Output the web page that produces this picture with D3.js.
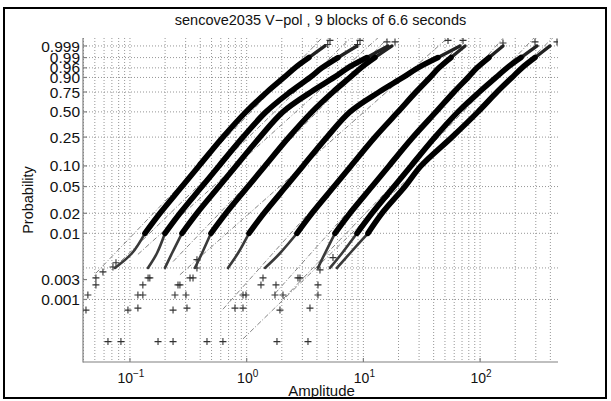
<!DOCTYPE html>
<html><head><meta charset="utf-8">
<script src="https://cdn.jsdelivr.net/npm/d3@7/dist/d3.min.js"></script>
<style>
body{margin:0;background:#fff}
svg{display:block}
text{font-family:"Liberation Sans",Arial,Helvetica,sans-serif;fill:#111}
</style>
</head><body>
<svg id="c" width="611" height="401"></svg>
<script>
// ---------------- data ----------------
const title = "sencove2035 V\u2212pol , 9 blocks of 6.6 seconds";
const xLabel = "Amplitude";
const yLabel = "Probability";
const xDomain = [0.0396, 465];
const pDomain = [0.000113, 0.99989];
const xTickValues = [0.1, 1, 10, 100];
const xTickExponents = ["\u22121", "0", "1", "2"];
const xGridMultipliers = [1,2,3,4,5,6,7,8,9];
const xGridDecades = [0.01, 0.1, 1, 10, 100];
const xGridMax = 400;
const yTickProbs = [0.001, 0.002, 0.01, 0.02, 0.05, 0.10, 0.25, 0.50, 0.75, 0.90, 0.96, 0.99, 0.999];
const yTickLabels = ["0.001","0.003","0.01","0.02","0.05","0.10","0.25","0.50","0.75","0.90","0.96","0.99","0.999"];
const yGridProbs = [0.001, 0.003, 0.01, 0.02, 0.05, 0.10, 0.25, 0.50, 0.75, 0.90, 0.96, 0.99, 0.999];

// probability levels of the dense part of each block
const probLevels = [0.01, 0.02, 0.05, 0.10, 0.25, 0.50, 0.75, 0.90, 0.96, 0.99, 0.999];
const block1 = [0.1344, 0.1807, 0.2790, 0.3902, 0.6263, 0.9863, 1.493, 2.087, 2.594, 3.419, 4.688];
const block2 = [0.1995, 0.2681, 0.4140, 0.5789, 0.9297, 1.464, 2.350, 3.486, 4.418, 6.058, 8.815];
const block3 = [0.2790, 0.3750, 0.5789, 0.8097, 1.300, 2.047, 3.556, 5.601, 7.379, 10.74, 16.25];
const block4 = [0.4943, 0.6647, 1.026, 1.435, 2.304, 3.627, 5.490, 7.676, 9.537, 12.57, 17.58];
const block5 = [1.046, 1.406, 2.172, 3.037, 4.876, 7.676, 13.61, 21.84, 29.37, 43.59, 67.26];
const block6 = [2.698, 3.627, 5.601, 7.829, 12.57, 19.80, 28.23, 37.22, 44.44, 56.31, 74.26];
const block7 = [5.710, 7.676, 11.85, 16.57, 26.61, 41.90, 59.76, 78.76, 94.06, 119.2, 157.1];
const block8 = [8.815, 11.85, 18.30, 25.58, 41.06, 64.65, 98.51, 136.8, 170.0, 224.1, 307.3];
const block9 = [10.95, 14.43, 22.73, 31.16, 57.43, 95.94, 139.6, 187.7, 228.6, 295.4, 397.2];

// sparser lower part (p = 0.003, 0.005)
const lowLevels = [0.003, 0.005];
const low1 = [0.0744, 0.1040];
const low2 = [0.1426, 0.1703];
const low3 = [0.1995, 0.2291];
const low4 = [0.3605, 0.4140];
const low5 = [0.6913, 0.842];
const low6 = [1.435, 1.929];
const low7 = [4.083, 4.688];
const low8 = [5.173, 6.556];
const low9 = [5.94, 7.676];

// isolated lower-tail samples [amplitude, probability]
const tail1 = [[0.042,0.00069],[0.0436,0.00117],[0.0511,0.00166],[0.0511,0.00212],[0.0587,0.00261],[0.0648,0.00023],[0.0715,0.0031],[0.0759,0.0036]];
const tail2 = [[0.0837,0.00023],[0.0961,0.00069],[0.117,0.00117],[0.129,0.00166],[0.143,0.00212]];
const tail3 = [[0.174,0.00023],[0.117,0.00074],[0.129,0.00117],[0.148,0.00212]];
const tail4 = [[0.234,0.00023],[0.234,0.00069],[0.243,0.00117],[0.258,0.00166],[0.327,0.00212],[0.375,0.0030]];
const tail5 = [[0.457,0.00023],[0.308,0.00074],[0.302,0.00117],[0.268,0.00166],[0.347,0.00212],[0.375,0.0040]];
const tail6 = [[0.626,0.00023],[0.794,0.00074],[0.930,0.00117],[1.326,0.00166],[1.380,0.00212]];
const tail7 = [[1.818,0.00023],[1.929,0.00069],[1.748,0.00117],[1.783,0.00166],[2.752,0.00212]];
const tail8 = [[3.352,0.00023],[3.486,0.00074],[2.047,0.00117],[4.083,0.00166],[2.862,0.00212],[4.247,0.0028]];
const tail9 = [[0.930,0.00074],[0.986,0.00117],[4.083,0.00117],[5.490,0.0043]];

// isolated upper-tail samples [amplitude, probability]
const top1 = [[5.173,0.99977],[4.95,0.9993]];
const top2 = [[9.352,0.99977],[8.9,0.9993]];
const top3 = [[15.93,0.99965]];
const top4 = [[18.66,0.99965]];
const top5 = [[53.1,0.99977]];
const top6 = [[71.4,0.99977]];
const top7 = [[157.1,0.99953]];
const top8 = [[295.4,0.99965]];
const top9 = [[456.0,0.99965]];

// reference (fit) lines drawn through each block's p=0.10 and p=0.90 points, over this amplitude extent
const fitProbs = [0.10, 0.90];
const fitExtent = [[0.051,5.2],[0.0837,9.4],[0.117,16],[0.234,18.7],[0.268,53],[0.626,71],[1.748,157],[2.047,295],[0.93,456]];

const blocks = [block1,block2,block3,block4,block5,block6,block7,block8,block9];
const lows = [low1,low2,low3,low4,low5,low6,low7,low8,low9];
const tails = [tail1,tail2,tail3,tail4,tail5,tail6,tail7,tail8,tail9];
const tops = [top1,top2,top3,top4,top5,top6,top7,top8,top9];

// ---------------- drawing ----------------
const svg = d3.select("#c");
const L = 83, R = 558, T = 38, B = 362;
const wb = p => Math.log(-Math.log(1 - p));
const x = d3.scaleLog().domain(xDomain).range([L, R]);
const yw = d3.scaleLinear().domain([wb(pDomain[0]), wb(pDomain[1])]).range([B, T]);
const y = p => yw(wb(p));

// frame
svg.append("rect").attr("x",4).attr("y",8).attr("width",602).attr("height",390)
  .attr("fill","none").attr("stroke","#000").attr("stroke-width",2);

svg.append("defs").append("clipPath").attr("id","clip")
  .append("rect").attr("x",L).attr("y",T).attr("width",R-L).attr("height",B-T);

// grid
const gridX = [];
xGridDecades.forEach(d => xGridMultipliers.forEach(m => {
  const v = +(d*m).toPrecision(3);
  if (v >= xDomain[0] && v <= xGridMax) gridX.push(v);
}));
const grid = svg.append("g").attr("stroke","#8a8a8a").attr("stroke-width",0.9)
  .attr("stroke-dasharray","1,2").attr("fill","none");
grid.selectAll(".gx").data(gridX).join("line")
  .attr("x1",d=>x(d)).attr("x2",d=>x(d)).attr("y1",T).attr("y2",B);
grid.selectAll(".gy").data(yGridProbs).join("line")
  .attr("x1",L).attr("x2",R).attr("y1",d=>y(d)).attr("y2",d=>y(d));

// axes
const ax = svg.append("g").attr("stroke","#808080").attr("stroke-width",1.2);
ax.append("line").attr("x1",L).attr("x2",L).attr("y1",T).attr("y2",B+0.5);
ax.append("line").attr("x1",L).attr("x2",R).attr("y1",B).attr("y2",B);
ax.selectAll(".ty").data(yTickProbs).join("line")
  .attr("x1",L).attr("x2",L+4).attr("y1",d=>y(d)).attr("y2",d=>y(d));
ax.selectAll(".tx").data(xTickValues).join("line")
  .attr("x1",d=>x(d)).attr("x2",d=>x(d)).attr("y1",B).attr("y2",B-4);

// tick labels
svg.append("g").selectAll("text").data(yTickProbs).join("text")
  .attr("x",80).attr("y",d=>y(d)).attr("dy","0.36em").attr("text-anchor","end")
  .attr("font-size",15.5).text((d,i)=>yTickLabels[i]);
const xt = svg.append("g").selectAll("text").data(xTickValues).join("text")
  .attr("x",d=>x(d)+1).attr("y",383).attr("text-anchor","middle").attr("font-size",14);
xt.append("tspan").text("10");
xt.append("tspan").attr("dy",-6).attr("font-size",10).text((d,i)=>xTickExponents[i]);

// labels
svg.append("text").attr("x",(L+R)/2).attr("y",25).attr("text-anchor","middle")
  .attr("font-size",14.5).text(title);
svg.append("text").attr("x",(L+R)/2+1).attr("y",396).attr("text-anchor","middle")
  .attr("font-size",15).text(xLabel);
svg.append("text").attr("transform",`translate(33,${(T+B)/2}) rotate(-90)`)
  .attr("text-anchor","middle").attr("font-size",14.5).text(yLabel);

const plot = svg.append("g").attr("clip-path","url(#clip)");

// fit lines (through each block's p=0.10 and p=0.90 points)
blocks.forEach((b,i) => {
  const i1 = probLevels.indexOf(fitProbs[0]), i2 = probLevels.indexOf(fitProbs[1]);
  const x1 = Math.log10(b[i1]), x2 = Math.log10(b[i2]);
  const w1 = wb(fitProbs[0]), w2 = wb(fitProbs[1]);
  const k = (w2-w1)/(x2-x1);
  const ends = fitExtent[i].map(a => [x(a), yw(w1 + k*(Math.log10(a)-x1))]);
  plot.append("line").attr("x1",ends[0][0]).attr("y1",ends[0][1])
    .attr("x2",ends[1][0]).attr("y2",ends[1][1])
    .attr("stroke","#777").attr("stroke-width",0.9).attr("stroke-dasharray","5,2,1,2");
});

const plus = (px,py,s) => `M${px-s},${py}h${2*s}M${px},${py-s}v${2*s}`;
const line = d3.line().curve(d3.curveCatmullRom.alpha(0.5));

// tails
tails.concat(tops).forEach(t => {
  plot.append("path").attr("d", t.map(d=>plus(x(d[0]),y(d[1]),3.5)).join(""))
    .attr("stroke","#333").attr("stroke-width",1.1).attr("fill","none");
});

// sparse lower segments
lows.forEach((lw,i) => {
  const pts = lw.map((a,j)=>[x(a), y(lowLevels[j])]);
  pts.push([x(blocks[i][0]), y(probLevels[0])]);
  plot.append("path").attr("d",line(pts)).attr("fill","none")
    .attr("stroke","#3a3a3a").attr("stroke-width",2.6).attr("stroke-linecap","round");
});

// sparser upper ends (p 0.99 -> 0.999)
blocks.forEach(b => {
  const n = b.length;
  const pts = [[x(b[n-3]), y(probLevels[n-3])],[x(b[n-2]), y(probLevels[n-2])],[x(b[n-1]), y(probLevels[n-1])]];
  plot.append("path").attr("d",line(pts)).attr("fill","none")
    .attr("stroke","#222").attr("stroke-width",3.4).attr("stroke-linecap","round");
});

// dense bodies (p 0.01 -> 0.99)
blocks.forEach(b => {
  const pts = b.slice(0, b.length-1).map((a,j)=>[x(a), y(probLevels[j])]);
  plot.append("path").attr("d",line(pts)).attr("fill","none")
    .attr("stroke","#000").attr("stroke-width",5.6)
    .attr("stroke-linecap","round").attr("stroke-linejoin","round");
});
</script>
</body></html>
